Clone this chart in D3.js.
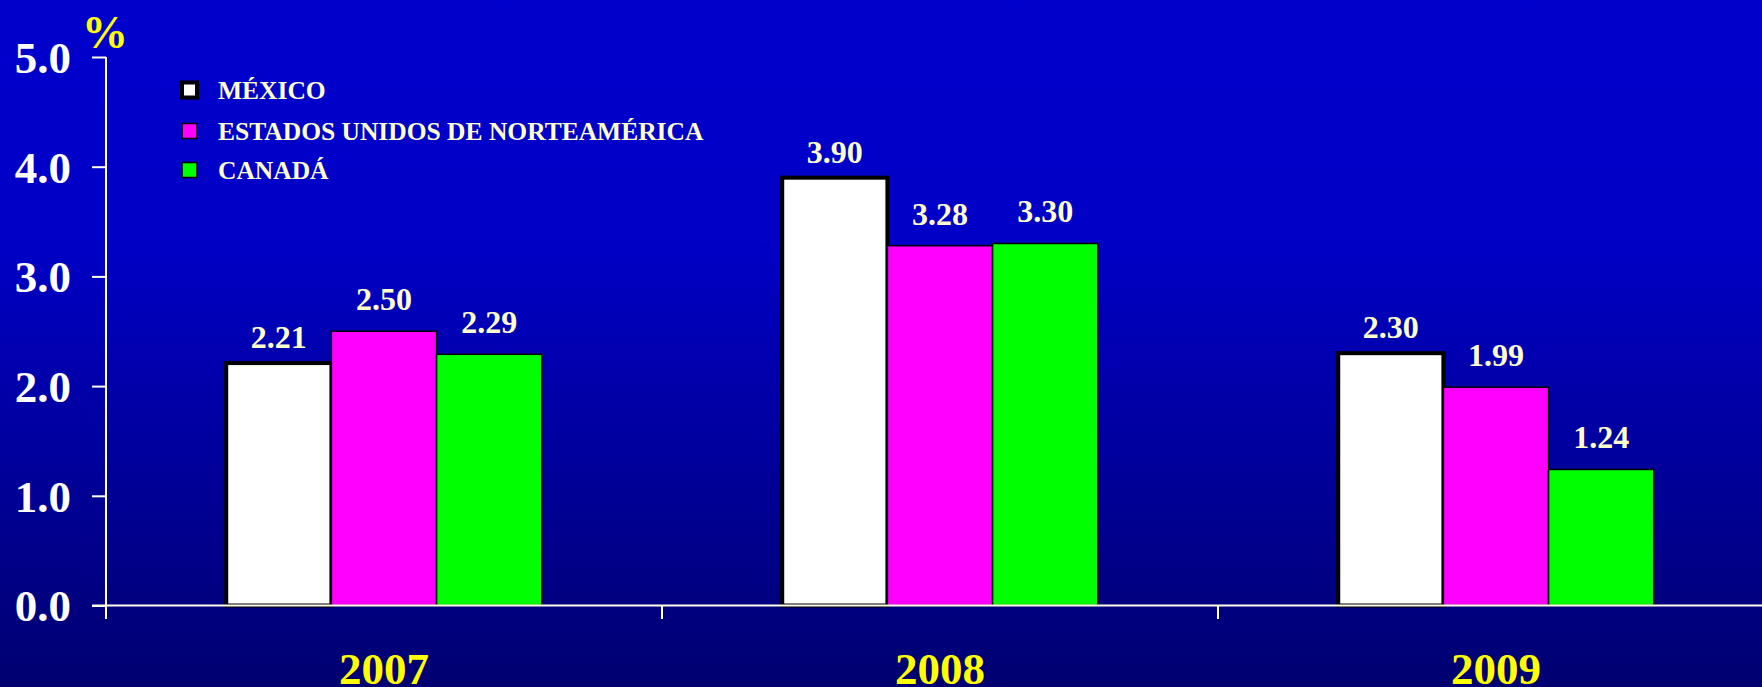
<!DOCTYPE html>
<html>
<head>
<meta charset="utf-8">
<script src="https://cdn.jsdelivr.net/npm/d3@7"></script>
<style>
  html, body { margin: 0; padding: 0; background: #000080; }
  svg { display: block; }
</style>
</head>
<body>
<script>
// ---- data ----
const years = ["2007", "2008", "2009"];
const seriesNames = ["MÉXICO", "ESTADOS UNIDOS DE NORTEAMÉRICA", "CANADÁ"];
const mexico = [2.21, 3.90, 2.30];
const usa = [2.50, 3.28, 1.99];
const canada = [2.29, 3.30, 1.24];
const yTicks = [0, 1, 2, 3, 4, 5];
const unitLabel = "%";

const seriesValues = [mexico, usa, canada];
const seriesFill = ["#FFFFFF", "#FF00FF", "#00FF00"];
const seriesStroke = [4, 1.5, 1.5];
const labelGap = [15, 21, 21];

const W = 1762, H = 687;
const svg = d3.select("body").append("svg").attr("width", W).attr("height", H);

const defs = svg.append("defs");
const grad = defs.append("linearGradient").attr("id", "bg").attr("x1", 0).attr("y1", 0).attr("x2", 0).attr("y2", 1);
grad.append("stop").attr("offset", "0").attr("stop-color", "#0000CC");
grad.append("stop").attr("offset", "0.35").attr("stop-color", "#0000C6");
grad.append("stop").attr("offset", "1").attr("stop-color", "#000070");
svg.append("rect").attr("width", W).attr("height", H).attr("fill", "url(#bg)");

const x0 = d3.scaleBand().domain(years).range([106, 1774]).paddingInner(0).paddingOuter(0);
const x1 = d3.scaleBand().domain(d3.range(seriesNames.length)).range([0, x0.bandwidth()]).paddingInner(0).paddingOuter(1.143);
const y = d3.scaleLinear().domain([0, 5]).range([605.5, 57]);

const font = "'Liberation Serif', 'Times New Roman', serif";
const axisColor = "#FFFFE8";

// bars
const groups = svg.append("g").selectAll("g").data(years).join("g")
  .attr("transform", d => `translate(${x0(d)},0)`);

groups.each(function(yr, yi) {
  const g = d3.select(this);
  seriesValues.forEach((vals, si) => {
    const v = vals[yi];
    g.append("rect")
      .attr("x", x1(si))
      .attr("y", y(v))
      .attr("width", x1.bandwidth())
      .attr("height", y(0) - y(v))
      .attr("fill", seriesFill[si])
      .attr("stroke", "#000")
      .attr("stroke-width", seriesStroke[si]);
  });
});

// axes
const yAxis = d3.axisLeft(y).tickValues(yTicks).tickSize(14).tickFormat(d3.format(".1f"));
const yg = svg.append("g").attr("transform", "translate(106,0)").call(yAxis);
yg.select(".domain").remove();
yg.selectAll(".tick line").attr("stroke", axisColor).attr("stroke-width", 2);
yg.selectAll(".tick text")
  .attr("x", -35)
  .attr("dy", "0.34em")
  .attr("fill", "#FFFFFF")
  .style("font-family", font)
  .style("font-weight", "bold")
  .style("font-size", "45px");
svg.append("line").attr("x1", 106).attr("x2", 106).attr("y1", y(5)).attr("y2", 619)
  .attr("stroke", axisColor).attr("stroke-width", 2);

const xAxis = d3.axisBottom(x0).tickSize(0).tickFormat("");
const xg = svg.append("g").attr("transform", `translate(0,${y(0)})`).call(xAxis);
xg.select(".domain").remove();
svg.append("line").attr("x1", 92).attr("x2", W).attr("y1", y(0)).attr("y2", y(0))
  .attr("stroke", axisColor).attr("stroke-width", 2);
// category boundary ticks
const boundaries = years.map(d => x0(d)).concat([x0(years[years.length - 1]) + x0.bandwidth()]);
svg.append("g").selectAll("line").data(boundaries).join("line")
  .attr("x1", d => d).attr("x2", d => d).attr("y1", y(0)).attr("y2", 619)
  .attr("stroke", axisColor).attr("stroke-width", 2);

// year labels
svg.append("g").selectAll("text").data(years).join("text")
  .attr("x", d => x0(d) + x0.bandwidth() / 2)
  .attr("y", 684)
  .attr("text-anchor", "middle")
  .attr("fill", "#FFFF00")
  .style("font-family", font)
  .style("font-weight", "bold")
  .style("font-size", "45px")
  .text(d => d);

// value labels
groups.each(function(yr, yi) {
  const g = d3.select(this);
  seriesValues.forEach((vals, si) => {
    const v = vals[yi];
    g.append("text")
      .attr("x", x1(si) + x1.bandwidth() / 2)
      .attr("y", y(v) - labelGap[si])
      .attr("text-anchor", "middle")
      .attr("fill", "#FFFFCC")
      .style("font-family", font)
      .style("font-weight", "bold")
      .style("font-size", "32px")
      .text(d3.format(".2f")(v));
  });
});

// unit label
svg.append("text").attr("x", 82).attr("y", 48)
  .attr("fill", "#FFFF00")
  .style("font-family", font)
  .style("font-weight", "bold")
  .style("font-size", "46px")
  .text(unitLabel);

// legend
const legend = svg.append("g");
const rowY = [90, 131, 170];
seriesNames.forEach((name, i) => {
  legend.append("rect")
    .attr("x", 182).attr("y", rowY[i] - 7.5)
    .attr("width", 15).attr("height", 15)
    .attr("fill", seriesFill[i])
    .attr("stroke", "#000")
    .attr("stroke-width", i === 0 ? 4 : 1.5);
  legend.append("text")
    .attr("x", 218).attr("y", rowY[i] + 9)
    .attr("fill", "#FFFFCC")
    .style("font-family", font)
    .style("font-weight", "bold")
    .style("font-size", "25.5px")
    .text(name);
});
</script>
</body>
</html>
